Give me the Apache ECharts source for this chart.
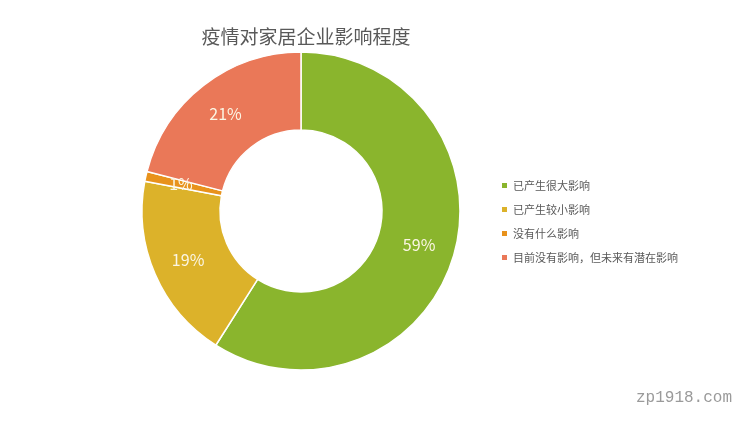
<!DOCTYPE html>
<html><head><meta charset="utf-8">
<script src="https://cdn.jsdelivr.net/npm/echarts@6/dist/echarts.min.js"></script>
<style>html,body{margin:0;padding:0;background:#fff}#c{width:750px;height:422px}</style>
</head><body><div id="c"></div>
<script>
const titleText = '疫情对家居企业影响程度';
const categories = ['已产生很大影响','已产生较小影响','没有什么影响','目前没有影响，但未来有潜在影响'];
const values = [59, 19, 1, 21];
const colors = ['#8ab52d','#dcb22a','#e8921c','#ea7858'];

const chart = echarts.init(document.getElementById('c'));
chart.setOption({
  backgroundColor:'#fff',
  animation:false,
  title:{text:titleText,left:301,top:22,textAlign:'center',
    textStyle:{fontFamily:'Noto Sans CJK SC',fontSize:19,fontWeight:'normal',color:'#595959'}},
  legend:{orient:'vertical',left:495,top:175,itemWidth:7,itemHeight:7,itemGap:13,icon:'rect',
    textStyle:{fontFamily:'Noto Sans CJK SC',fontSize:11,color:'#595959'},
    data:categories},
  color:colors,
  series:[{
    type:'pie',center:[301,211],radius:[81,159],startAngle:90,clockwise:true,
    itemStyle:{borderColor:'#fff',borderWidth:1.5},
    label:{show:true,position:'inside',formatter:'{d}%',color:'#fbf6e4',
      fontFamily:'Noto Sans CJK SC',fontSize:16},
    labelLine:{show:false},
    emphasis:{disabled:true},
    data:categories.map((n,i)=>({name:n,value:values[i]}))
  }],
  graphic:[{type:'text',left:636,top:390,style:{text:'zp1918.com',fill:'#9a9a9a',
    font:'16px "Liberation Mono", monospace'}}]
});
</script></body></html>
